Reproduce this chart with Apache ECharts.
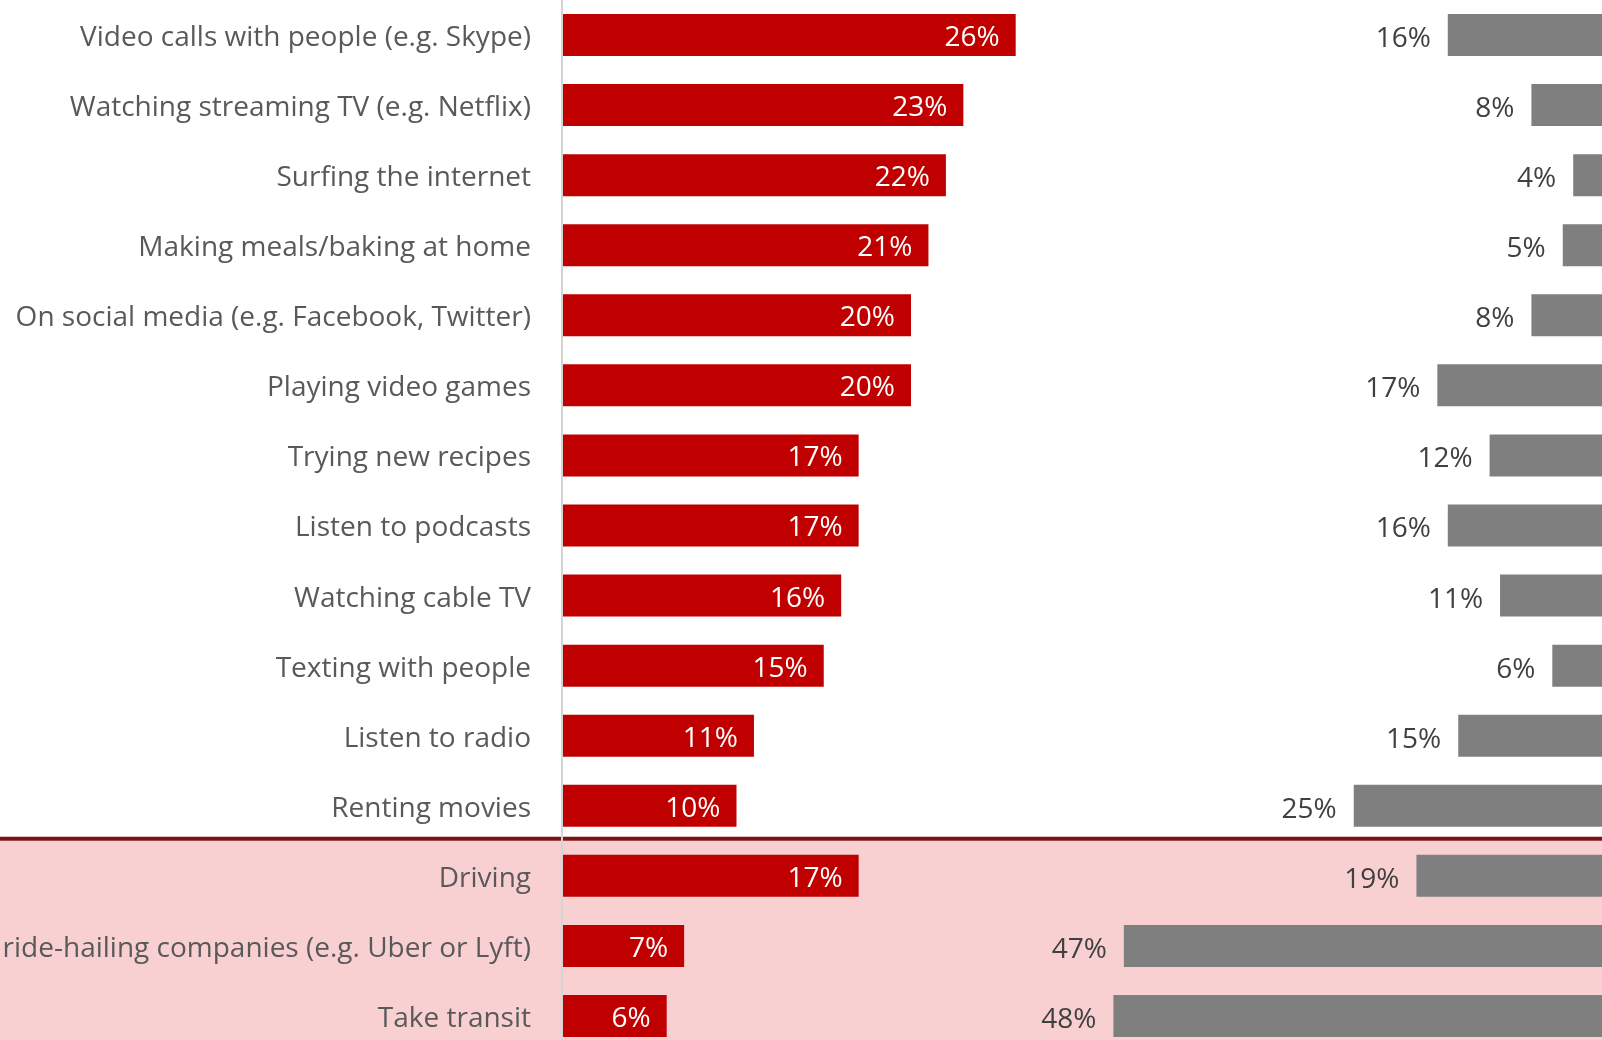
<!DOCTYPE html>
<html>
<head>
<meta charset="utf-8">
<script src="https://cdn.jsdelivr.net/npm/echarts@6/dist/echarts.min.js"></script>
<style>
  html, body { margin: 0; padding: 0; background: #ffffff; }
  #chart { width: 1602px; height: 1040px; }
</style>
</head>
<body>
<div id="chart"></div>
<script>
// Activities, top to bottom
const categories = [
  'Video calls with people (e.g. Skype)',
  'Watching streaming TV (e.g. Netflix)',
  'Surfing the internet',
  'Making meals/baking at home',
  'On social media (e.g. Facebook, Twitter)',
  'Playing video games',
  'Trying new recipes',
  'Listen to podcasts',
  'Watching cable TV',
  'Texting with people',
  'Listen to radio',
  'Renting movies',
  'Driving',
  'ride-hailing companies (e.g. Uber or Lyft)',
  'Take transit'
];
// Share doing more of the activity (%)
const moreValues = [26, 23, 22, 21, 20, 20, 17, 17, 16, 15, 11, 10, 17, 7, 6];
// Share doing less of the activity (%)
const lessValues = [16, 8, 4, 5, 8, 17, 12, 16, 11, 6, 15, 25, 19, 47, 48];
// First category of the highlighted (mobility) block
const highlightStart = 'Driving';

const FONT = '"Open Sans", "Noto Sans", sans-serif';
const chart = echarts.init(document.getElementById('chart'));

const rowGrid = { top: 0, height: 1051 };

chart.setOption({
  animation: false,
  backgroundColor: '#ffffff',
  grid: [
    { left: 562, width: 872.5, top: rowGrid.top, height: rowGrid.height,
      containLabel: false, outerBoundsMode: 'none' },
    { left: 1092.5, width: 522.5, top: rowGrid.top, height: rowGrid.height,
      containLabel: false, outerBoundsMode: 'none' }
  ],
  xAxis: [
    { type: 'value', gridIndex: 0, min: 0, max: 50, show: false },
    { type: 'value', gridIndex: 1, min: 0, max: 50, inverse: true, show: false }
  ],
  yAxis: [
    {
      type: 'category', gridIndex: 0, data: categories, inverse: true,
      axisLine: { show: true, lineStyle: { color: '#d4d4d4', width: 2 } },
      axisTick: { show: false },
      splitLine: { show: false },
      axisLabel: {
        margin: 31,
        formatter: v => '{c|' + v + '}',
        rich: {
          c: { color: '#595959', fontSize: 28, fontFamily: FONT, padding: [6, 0, 0, 0] }
        }
      },
      z: 5
    },
    {
      type: 'category', gridIndex: 1, data: categories, inverse: true, show: false
    }
  ],
  series: [
    {
      type: 'bar', xAxisIndex: 0, yAxisIndex: 0, data: moreValues,
      barWidth: 42,
      itemStyle: { color: '#c00000' },
      label: {
        show: true, position: 'insideRight', distance: 16, offset: [0, 3],
        formatter: p => p.value + '%',
        color: '#ffffff', fontSize: 28, fontFamily: FONT
      },
      z: 3
    },
    {
      type: 'bar', xAxisIndex: 1, yAxisIndex: 1, data: lessValues,
      barWidth: 42,
      itemStyle: { color: '#7f7f7f' },
      label: {
        show: true, position: 'left', distance: 17, offset: [0, 4],
        formatter: p => p.value + '%',
        color: '#404040', fontSize: 28, fontFamily: FONT
      },
      z: 3
    }
  ]
});

// Shade the mobility block below a dark divider, aligned to the category bands
function drawHighlight() {
  const idx = categories.indexOf(highlightStart);
  const yPrev = chart.convertToPixel({ yAxisIndex: 0 }, categories[idx - 1]);
  const yCur = chart.convertToPixel({ yAxisIndex: 0 }, categories[idx]);
  const boundary = (yPrev + yCur) / 2;
  chart.setOption({
    graphic: [
      {
        type: 'rect', z: -10, silent: true,
        shape: { x: 0, y: boundary, width: 1602, height: 1040 - boundary },
        style: { fill: '#f8d0d2' }
      },
      {
        type: 'rect', z: 1, silent: true,
        shape: { x: 0, y: boundary - 4, width: 1602, height: 4 },
        style: { fill: '#7d1214' }
      }
    ]
  });
}
drawHighlight();
</script>
</body>
</html>
